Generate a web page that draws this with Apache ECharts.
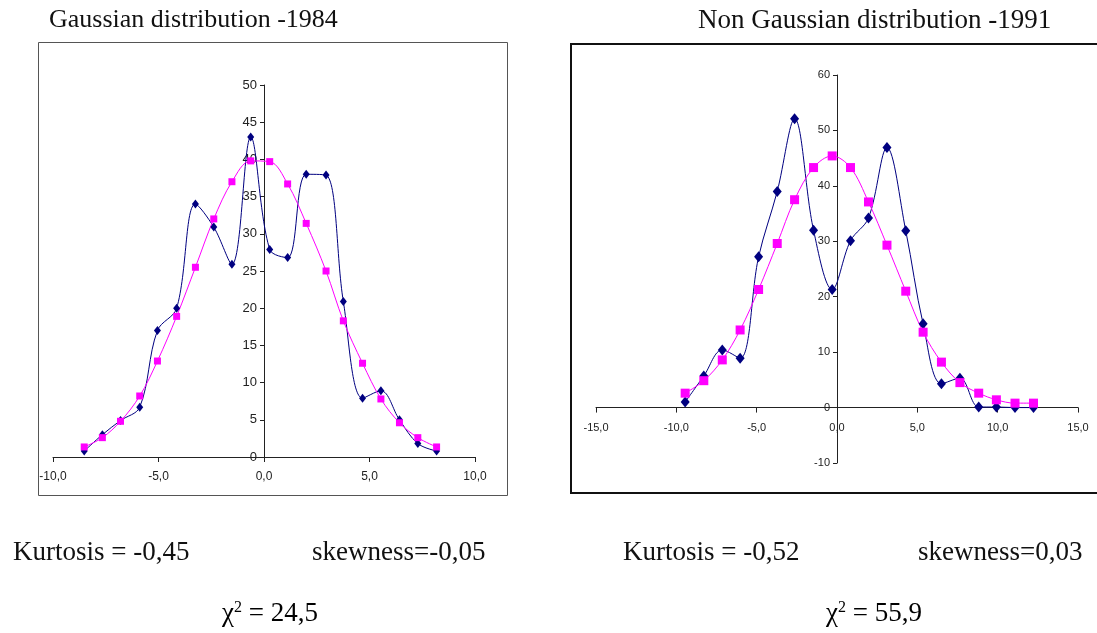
<!DOCTYPE html>
<html>
<head>
<meta charset="utf-8">
<title>Gaussian / Non Gaussian distribution</title>
<script src="https://cdn.jsdelivr.net/npm/echarts@6/dist/echarts.min.js"></script>
<style>
  html, body { margin: 0; padding: 0; background: #fff; }
  #chart { width: 1097px; height: 633px; }
</style>
</head>
<body>
<div id="chart"></div>
<script>
// bin centres and values
const leftX = [-8.52, -7.66, -6.80, -5.89, -5.05, -4.14, -3.25, -2.38, -1.52, -0.63,
  0.27, 1.12, 2.00, 2.94, 3.76, 4.67, 5.54, 6.42, 7.29, 8.18];
const leftObserved = [0.8, 3.0, 4.9, 6.7, 17.0, 20.0, 34.0, 30.9, 25.9, 43.0,
  27.9, 26.8, 38.0, 37.9, 20.9, 7.9, 8.9, 5.0, 1.8, 0.8];
const leftFitted = [1.35, 2.6, 4.8, 8.2, 12.9, 18.9, 25.5, 32.0, 37.0, 39.8,
  39.7, 36.7, 31.4, 25.0, 18.3, 12.6, 7.8, 4.6, 2.6, 1.35];

const rightX = [-9.45, -8.29, -7.14, -6.03, -4.88, -3.72, -2.64, -1.46, -0.30, 0.84,
  1.96, 3.11, 4.28, 5.36, 6.50, 7.65, 8.82, 9.92, 11.08, 12.23];
const rightObserved = [1.0, 5.7, 10.4, 8.9, 27.2, 39.0, 52.1, 32.0, 21.3, 30.1,
  34.2, 46.9, 31.9, 15.1, 4.3, 5.3, 0.1, 0.1, 0, 0];
const rightFitted = [2.6, 4.85, 8.6, 14.0, 21.3, 29.6, 37.5, 43.3, 45.4, 43.3,
  37.1, 29.3, 21.0, 13.6, 8.2, 4.5, 2.6, 1.4, 0.8, 0.8];

const titles = ["Gaussian distribution -1984", "Non Gaussian distribution -1991"];
const kurtosis = ["-0,45", "-0,52"];
const skewness = ["-0,05", "0,03"];
const chiSquare = ["24,5", "55,9"];

const zip = (xs, ys) => xs.map((x, i) => [x, ys[i]]);
const comma = v => v.toFixed(1).replace(".", ",");

const axisFont = "'Liberation Sans Narrow', 'Arial Narrow', 'Liberation Sans', sans-serif";
const serif = "'Liberation Serif', 'Times New Roman', serif";
const navy = "#000080";
const pink = "#FF00FF";

// grid boxes, the axes are shifted onto the zero of the other axis with offset
const grids = [
  { left: 53, top: 85, width: 422, height: 372 },
  { left: 596, top: 75, width: 482, height: 388 }
];

function xAxisOf(idx, min, max, size, yMin, yMax) {
  const g = grids[idx];
  const zeroY = g.top + g.height * yMax / (yMax - yMin);
  return {
    type: "value", gridIndex: idx, min: min, max: max, interval: 5,
    position: "bottom", offset: zeroY - (g.top + g.height),
    axisLine: { onZero: false, lineStyle: { color: "#222", width: 1 } },
    axisTick: { show: true, length: 5, lineStyle: { color: "#222" } },
    axisLabel: { formatter: comma, color: "#222", fontFamily: axisFont,
      fontSize: size, margin: idx === 0 ? 14 : 15 },
    splitLine: { show: false }
  };
}

function yAxisOf(idx, min, max, interval, size, xMin, xMax) {
  const g = grids[idx];
  const zeroX = g.left + g.width * (-xMin) / (xMax - xMin);
  return {
    type: "value", gridIndex: idx, min: min, max: max, interval: interval,
    position: "left", offset: g.left - zeroX,
    axisLine: { show: true, onZero: false, lineStyle: { color: "#222", width: 1 } },
    axisTick: { show: true, length: 4, lineStyle: { color: "#222" } },
    axisLabel: { color: "#222", fontFamily: axisFont, fontSize: size, margin: 7 },
    splitLine: { show: false }
  };
}

function lineSeries(idx, data, color, symbol, size) {
  return {
    type: "line", xAxisIndex: idx, yAxisIndex: idx, data: data,
    smooth: 0.35, symbol: symbol, symbolSize: size, showSymbol: true,
    lineStyle: { color: color, width: 1 },
    itemStyle: { color: color, borderWidth: 0 }
  };
}

function statText(left, top, text) {
  return {
    type: "text", left: left, top: top,
    style: { text: text, font: "27px " + serif, fill: "#111" }
  };
}

function chiText(left, top, value) {
  return {
    type: "text", left: left, top: top,
    style: {
      text: "{c|χ}{s|2}{c| = " + value + "}",
      rich: {
        c: { fontFamily: serif, fontSize: 27, color: "#111" },
        s: { fontFamily: serif, fontSize: 16, verticalAlign: "top", color: "#111", padding: [0, 0, 10, 0] }
      }
    }
  };
}

const chart = echarts.init(document.getElementById("chart"));
chart.setOption({
  animation: false,
  backgroundColor: "#fff",
  grid: grids,
  xAxis: [xAxisOf(0, -10, 10, 12, 0, 50), xAxisOf(1, -15, 15, 11, -10, 60)],
  yAxis: [yAxisOf(0, 0, 50, 5, 13, -10, 10), yAxisOf(1, -10, 60, 10, 11, -15, 15)],
  series: [
    lineSeries(0, zip(leftX, leftObserved), navy, "diamond", [7, 9]),
    lineSeries(0, zip(leftX, leftFitted), pink, "rect", 7),
    lineSeries(1, zip(rightX, rightObserved), navy, "diamond", [9, 11]),
    lineSeries(1, zip(rightX, rightFitted), pink, "rect", 9)
  ],
  graphic: [
    { type: "rect", shape: { x: 38.5, y: 42.5, width: 469, height: 453 },
      style: { fill: "none", stroke: "#555", lineWidth: 1 }, z: -1 },
    { type: "rect", shape: { x: 571, y: 44, width: 540, height: 449 },
      style: { fill: "none", stroke: "#111", lineWidth: 2 }, z: -1 },
    { type: "text", left: 49, top: 7, style: { text: titles[0], font: "26px " + serif, fill: "#111" } },
    { type: "text", left: 698, top: 7, style: { text: titles[1], font: "27px " + serif, fill: "#111" } },
    statText(13, 539, "Kurtosis = " + kurtosis[0]),
    statText(312, 539, "skewness=" + skewness[0]),
    chiText(222, 600, chiSquare[0]),
    statText(623, 539, "Kurtosis = " + kurtosis[1]),
    statText(918, 539, "skewness=" + skewness[1]),
    chiText(826, 600, chiSquare[1])
  ]
});
window.addEventListener("resize", function () {
  chart.resize();
});
</script>
</body>
</html>
